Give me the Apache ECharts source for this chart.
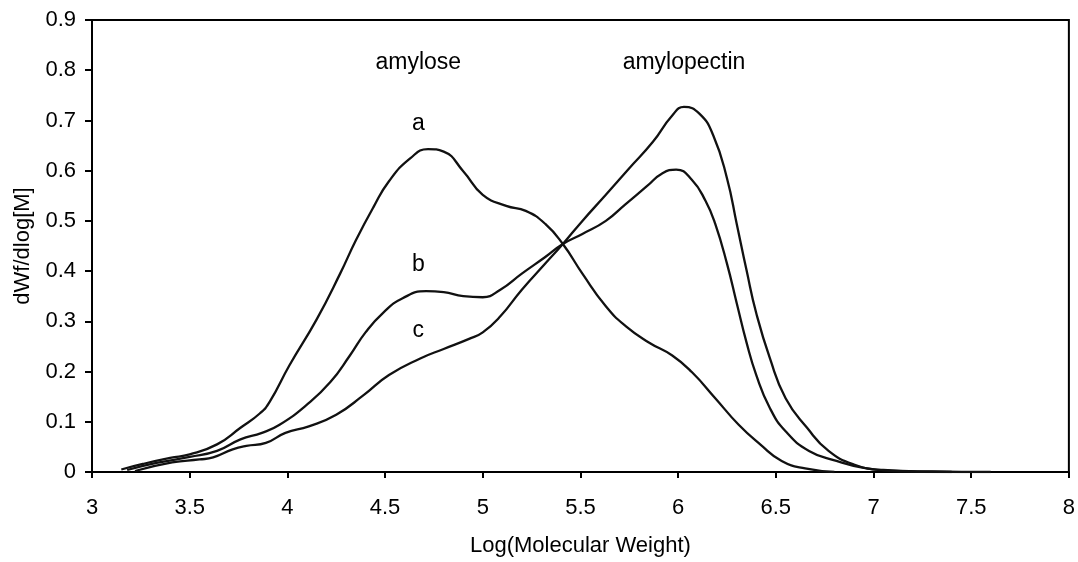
<!DOCTYPE html>
<html>
<head>
<meta charset="utf-8">
<script src="https://cdn.jsdelivr.net/npm/echarts@6/dist/echarts.min.js"></script>
<style>
html,body{margin:0;padding:0;background:#fff;}
#chart{width:1078px;height:562px;}
</style>
</head>
<body>
<div id="chart"></div>
<script>
// Curve a
const xA = [3.15,3.26,3.40,3.50,3.64,3.76,3.86,3.91,4.01,4.15,4.27,4.35,4.44,4.52,4.63,4.72,4.80,4.90,5.00,5.12,5.22,5.32,5.41,5.51,5.63,5.73,5.85,5.97,6.07,6.19,6.31,6.42,6.53,6.65,6.80];
const yA = [0.005,0.016,0.028,0.035,0.055,0.088,0.117,0.140,0.212,0.304,0.395,0.461,0.527,0.579,0.625,0.643,0.638,0.599,0.552,0.530,0.520,0.494,0.454,0.395,0.330,0.291,0.258,0.232,0.199,0.147,0.094,0.055,0.022,0.007,0.000];
// Curve b
const xB = [3.18,3.33,3.50,3.64,3.76,3.87,3.96,4.10,4.22,4.32,4.40,4.49,4.59,4.71,4.80,4.90,5.00,5.09,5.20,5.32,5.41,5.51,5.63,5.73,5.84,5.92,5.99,6.07,6.14,6.19,6.25,6.30,6.35,6.40,6.47,6.55,6.67,6.81,6.95,7.10,7.40];
const yB = [0.004,0.018,0.030,0.042,0.065,0.078,0.094,0.134,0.179,0.232,0.278,0.317,0.346,0.360,0.358,0.350,0.348,0.363,0.395,0.428,0.454,0.474,0.500,0.533,0.569,0.595,0.602,0.582,0.540,0.494,0.415,0.336,0.258,0.193,0.127,0.081,0.042,0.022,0.008,0.002,0.000];
// Curve c
const xC = [3.22,3.41,3.55,3.62,3.72,3.79,3.89,3.99,4.11,4.25,4.39,4.52,4.68,4.80,4.93,5.00,5.09,5.20,5.32,5.41,5.51,5.63,5.75,5.87,5.97,6.03,6.11,6.18,6.25,6.30,6.35,6.40,6.47,6.55,6.66,6.77,6.90,7.05,7.30,7.60];
const yC = [0.002,0.019,0.025,0.029,0.045,0.052,0.058,0.078,0.091,0.114,0.153,0.193,0.226,0.245,0.265,0.278,0.310,0.363,0.415,0.454,0.500,0.552,0.605,0.657,0.710,0.727,0.713,0.670,0.585,0.494,0.402,0.316,0.226,0.147,0.088,0.042,0.015,0.004,0.001,0.000];
// Annotations
const noteText = ['amylose','amylopectin','a','b','c'];
const noteX = [4.67,6.03,4.67,4.67,4.67];
const noteY = [0.816,0.815,0.694,0.412,0.281];
// Axes
const xTitle = 'Log(Molecular Weight)';
const yTitle = 'dWf/dlog[M]';

function pairs(xs, ys){ return xs.map((x,i)=>[x, ys[i]]); }

const font = '"Liberation Sans", Arial, sans-serif';
const lineStyle = {color:'#111', width:2.3};

const chart = echarts.init(document.getElementById('chart'), null, {renderer:'canvas'});
chart.setOption({
  animation:false,
  backgroundColor:'#fff',
  grid:{left:92, right:8, top:20, bottom:84, show:true, borderColor:'#000', borderWidth:2, backgroundColor:'transparent'},
  xAxis:{
    type:'value', min:3, max:8, interval:0.5,
    name:xTitle, nameLocation:'middle', nameGap:63,
    nameTextStyle:{color:'#000', fontFamily:font, fontSize:22},
    axisLine:{show:true, onZero:false, lineStyle:{color:'#000', width:2}},
    axisTick:{show:true, inside:false, length:6, lineStyle:{color:'#000', width:2}},
    axisLabel:{color:'#000', fontFamily:font, fontSize:22, margin:25},
    splitLine:{show:false}
  },
  yAxis:{
    type:'value', min:0, max:0.9, interval:0.1,
    name:yTitle, nameLocation:'middle', nameGap:58, nameRotate:90,
    nameTextStyle:{color:'#000', fontFamily:font, fontSize:22},
    axisLine:{show:true, lineStyle:{color:'#000', width:2}},
    axisTick:{show:true, inside:false, length:7, lineStyle:{color:'#000', width:2}},
    axisLabel:{color:'#000', fontFamily:font, fontSize:22, margin:16},
    splitLine:{show:false}
  },
  series:[
    {type:'line', name:'a', data:pairs(xA,yA), smooth:0.5, showSymbol:false, lineStyle:lineStyle},
    {type:'line', name:'b', data:pairs(xB,yB), smooth:0.5, showSymbol:false, lineStyle:lineStyle},
    {type:'line', name:'c', data:pairs(xC,yC), smooth:0.5, showSymbol:false, lineStyle:lineStyle},
    {type:'scatter', symbolSize:0, silent:true, itemStyle:{opacity:1},
     data:noteText.map((t,i)=>({name:t, value:[noteX[i], noteY[i]]})),
     label:{show:true, position:'inside', formatter:p=>p.name, color:'#000', fontFamily:font, fontSize:23}}
  ]
});
</script>
</body>
</html>
